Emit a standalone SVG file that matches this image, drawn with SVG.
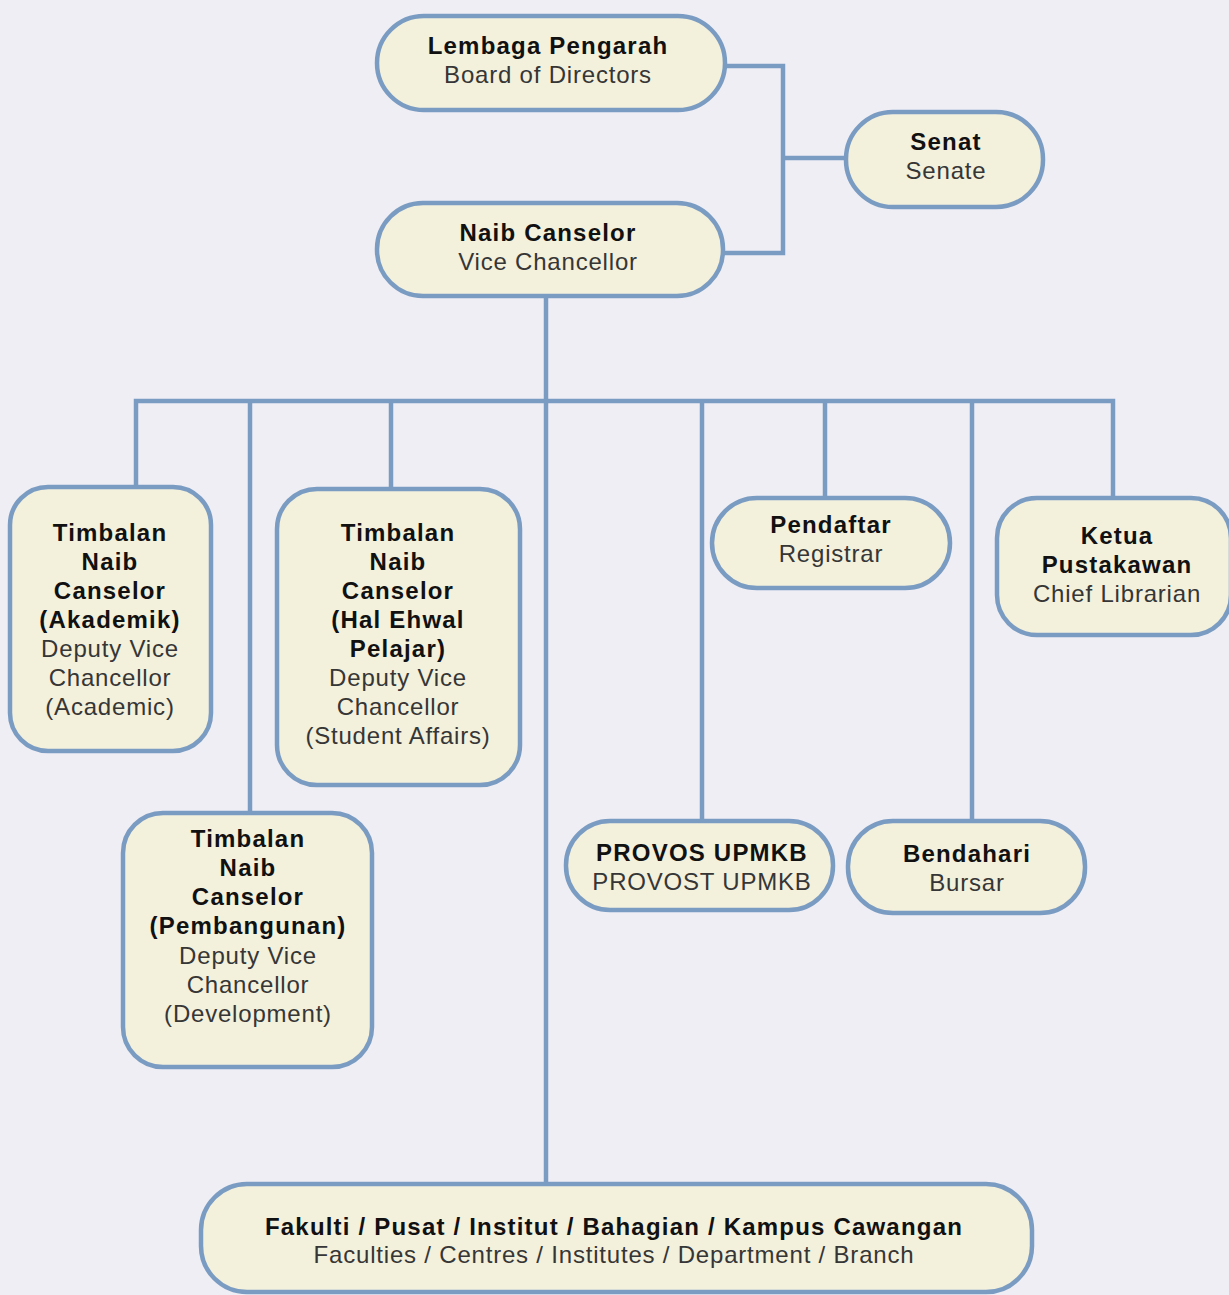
<svg xmlns="http://www.w3.org/2000/svg" width="1229" height="1295" viewBox="0 0 1229 1295">
<style>
.bg{fill:#efeef4}
.box{fill:#f3f0dc;stroke:#7b9cc2;stroke-width:4.5}
.ln{fill:none;stroke:#7b9cc2;stroke-width:4.5;stroke-linejoin:miter}
text{font-family:"Liberation Sans",Arial,sans-serif;text-anchor:middle}
.b{font-weight:bold;fill:#111;font-size:24px;letter-spacing:1.2px}
.r{font-weight:normal;fill:#363636;font-size:24px;letter-spacing:0.8px}
</style>
<rect class="bg" x="0" y="0" width="1229" height="1295"/>
<g id="connectors">
<path class="ln" d="M724,66 H783 V253 H722"/>
<path class="ln" d="M783,158 H846"/>
<path class="ln" d="M546,296 V1184"/>
<path class="ln" d="M136,487 V401 H1113 V498"/>
<path class="ln" d="M250,401 V813"/>
<path class="ln" d="M391,401 V489"/>
<path class="ln" d="M702,401 V821"/>
<path class="ln" d="M825,401 V498"/>
<path class="ln" d="M972,401 V821"/>
</g>
<g id="lembaga">
<rect class="box" x="377" y="16" width="348" height="94" rx="47"/>
<text class="b" x="548" y="54">Lembaga Pengarah</text>
<text class="r" x="548" y="83">Board of Directors</text>
</g>
<g id="senat">
<rect class="box" x="846" y="112" width="197" height="95" rx="47"/>
<text class="b" x="946" y="150">Senat</text>
<text class="r" x="946" y="179">Senate</text>
</g>
<g id="naib">
<rect class="box" x="377" y="203" width="346" height="93" rx="46"/>
<text class="b" x="548" y="241">Naib Canselor</text>
<text class="r" x="548" y="270">Vice Chancellor</text>
</g>
<g id="tnc-akademik">
<rect class="box" x="10" y="487" width="201" height="264" rx="38"/>
<text class="b" x="110" y="541">Timbalan</text>
<text class="b" x="110" y="570">Naib</text>
<text class="b" x="110" y="599">Canselor</text>
<text class="b" x="110" y="628">(Akademik)</text>
<text class="r" x="110" y="657">Deputy Vice</text>
<text class="r" x="110" y="686">Chancellor</text>
<text class="r" x="110" y="715">(Academic)</text>
</g>
<g id="tnc-hep">
<rect class="box" x="277" y="489" width="243" height="296" rx="40"/>
<text class="b" x="398" y="541">Timbalan</text>
<text class="b" x="398" y="570">Naib</text>
<text class="b" x="398" y="599">Canselor</text>
<text class="b" x="398" y="628">(Hal Ehwal</text>
<text class="b" x="398" y="657">Pelajar)</text>
<text class="r" x="398" y="686">Deputy Vice</text>
<text class="r" x="398" y="715">Chancellor</text>
<text class="r" x="398" y="744">(Student Affairs)</text>
</g>
<g id="tnc-pembangunan">
<rect class="box" x="123" y="813" width="249" height="254" rx="40"/>
<text class="b" x="248" y="847">Timbalan</text>
<text class="b" x="248" y="876">Naib</text>
<text class="b" x="248" y="905">Canselor</text>
<text class="b" x="248" y="934">(Pembangunan)</text>
<text class="r" x="248" y="964">Deputy Vice</text>
<text class="r" x="248" y="993">Chancellor</text>
<text class="r" x="248" y="1022">(Development)</text>
</g>
<g id="pendaftar">
<rect class="box" x="712" y="498" width="238" height="90" rx="45"/>
<text class="b" x="831" y="533">Pendaftar</text>
<text class="r" x="831" y="562">Registrar</text>
</g>
<g id="ketua-pustakawan">
<rect class="box" x="997" y="498" width="234" height="137" rx="40"/>
<text class="b" x="1117" y="544">Ketua</text>
<text class="b" x="1117" y="573">Pustakawan</text>
<text class="r" x="1117" y="602">Chief Librarian</text>
</g>
<g id="provos">
<rect class="box" x="566" y="821" width="267" height="89" rx="44"/>
<text class="b" x="702" y="861">PROVOS UPMKB</text>
<text class="r" x="702" y="890">PROVOST UPMKB</text>
</g>
<g id="bendahari">
<rect class="box" x="848" y="821" width="237" height="92" rx="45"/>
<text class="b" x="967" y="862">Bendahari</text>
<text class="r" x="967" y="891">Bursar</text>
</g>
<g id="fakulti">
<rect class="box" x="201" y="1184" width="831" height="108" rx="46"/>
<text class="b" x="614" y="1235">Fakulti / Pusat / Institut / Bahagian / Kampus Cawangan</text>
<text class="r" x="614" y="1263">Faculties / Centres / Institutes / Department / Branch</text>
</g>
</svg>
